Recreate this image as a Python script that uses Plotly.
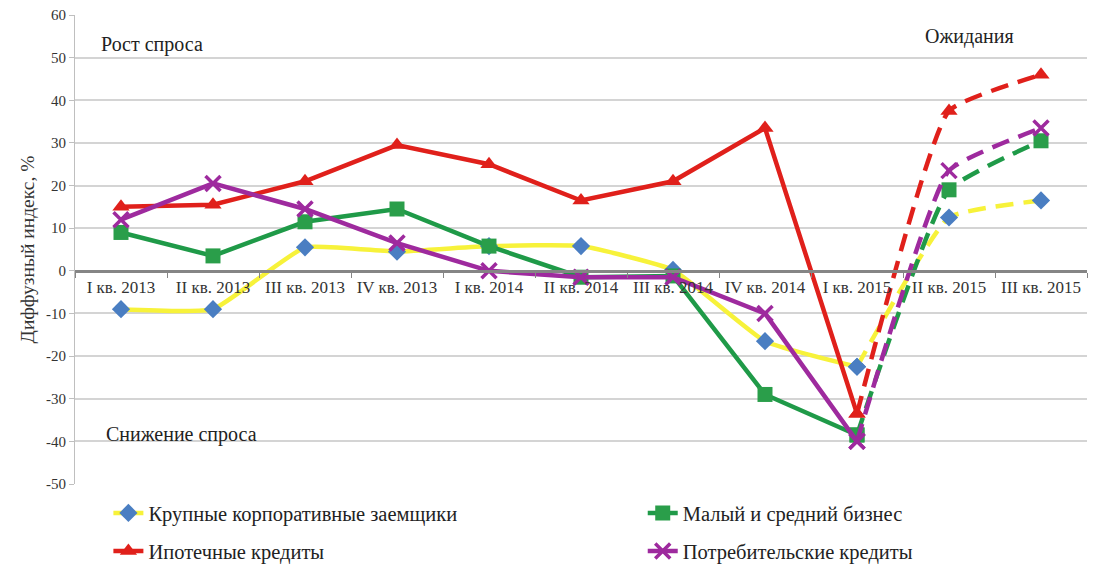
import plotly.graph_objects as go

categories = ["I кв. 2013", "II кв. 2013", "III кв. 2013", "IV кв. 2013",
              "I кв. 2014", "II кв. 2014", "III кв. 2014", "IV кв. 2014",
              "I кв. 2015", "II кв. 2015", "III кв. 2015"]

large_corp = [-9, -9, 5.5, 4.5, 5.8, 5.8, 0.2, -16.5, -22.5, 12.5, 16.5]
sme = [9, 3.5, 11.5, 14.5, 5.8, -1.5, -1.2, -29, -38.5, 19, 30.5]
mortgage = [15, 15.5, 21, 29.5, 25, 16.5, 21, 33.5, -33.5, 37.5, 46]
consumer = [12, 20.5, 14.5, 6.5, 0, -1.5, -1.5, -10, -40, 23.5, 33.5]

names = ["Крупные корпоративные заемщики", "Малый и средний бизнес",
         "Ипотечные кредиты", "Потребительские кредиты"]

y_ticks = [60, 50, 40, 30, 20, 10, 0, -10, -20, -30, -40, -50]

FACT_END = 8  # index of last actual quarter (I кв. 2015)

series = [
    dict(y=large_corp, line="#F7F23A", mcolor="#4A7EC2", symbol="diamond", size=14, spline=True, legend="legend"),
    dict(y=sme, line="#1F9A48", mcolor="#2A9E4A", symbol="square", size=15, spline=False, legend="legend2"),
    dict(y=mortgage, line="#E0201B", mcolor="#E0201B", symbol="triangle-up", size=15, spline=False, legend="legend3"),
    dict(y=consumer, line="#9E2A9E", mcolor="#9E2A9E", symbol="x-thin", size=15, spline=False, legend="legend4"),
]

fig = go.Figure()
serif = "Liberation Serif, Times New Roman, serif"

for name, s in zip(names, series):
    marker = dict(symbol=s["symbol"], size=s["size"], color=s["mcolor"],
                  line=dict(color=s["mcolor"], width=3.5 if s["symbol"] == "x-thin" else 0))
    fig.add_trace(go.Scatter(
        x=categories[:FACT_END + 1], y=s["y"][:FACT_END + 1], name=name,
        mode="lines+markers",
        line=dict(color=s["line"], width=4.5, shape="spline" if s["spline"] else "linear", smoothing=0.4),
        marker=marker, legend=s["legend"], showlegend=True))
    fig.add_trace(go.Scatter(
        x=categories[FACT_END:], y=s["y"][FACT_END:], name=name,
        mode="lines+markers",
        line=dict(color=s["line"], width=4.5, dash="18px,10px", shape="spline", smoothing=0.4),
        marker=marker, legend=s["legend"], showlegend=False))

leg_font = dict(family=serif, size=20.5, color="#222222")
def leg(x, y):
    return dict(orientation="h", x=x, y=y, xanchor="left", yanchor="middle",
                font=leg_font, itemwidth=30, bgcolor="rgba(0,0,0,0)")

fig.update_layout(
    width=1095, height=565,
    margin=dict(l=75, r=8, t=15, b=81, autoexpand=False),
    plot_bgcolor="white", paper_bgcolor="white",
    font=dict(family=serif, size=14, color="#333333"),
    xaxis=dict(
        type="category", range=[-0.5, 10.5],
        anchor="free", position=50 / 110,
        showline=True, linecolor="#858585", linewidth=2.5,
        ticks="outside", tickson="boundaries", ticklen=5, tickcolor="#858585",
        showgrid=False, tickfont=dict(family=serif, size=17, color="#333333"),
    ),
    yaxis=dict(
        range=[-50, 60], domain=[0, 1],
        tickvals=y_ticks, ticktext=[str(v) for v in y_ticks],
        showline=True, linecolor="#BFBFBF", linewidth=1,
        ticks="outside", ticklen=5, tickcolor="#BFBFBF",
        showgrid=True, gridcolor="#D4D4D4", gridwidth=2,
        zeroline=False,
        tickfont=dict(family=serif, size=15, color="#333333"),
        title=dict(text="Диффузный индекс, %", font=dict(family=serif, size=19.5, color="#333333"), standoff=6),
    ),
    legend=leg(0.033, -0.062),
    legend2=leg(0.561, -0.062),
    legend3=leg(0.033, -0.143),
    legend4=leg(0.561, -0.143),
    annotations=[
        dict(x=0.024, y=53, xref="paper", yref="y", text="Рост спроса", showarrow=False,
             xanchor="left", font=dict(family=serif, size=20, color="#222222")),
        dict(x=0.029, y=-38.5, xref="paper", yref="y", text="Снижение спроса", showarrow=False,
             xanchor="left", font=dict(family=serif, size=20, color="#222222")),
        dict(x=0.884, y=55, xref="paper", yref="y", text="Ожидания", showarrow=False,
             xanchor="center", font=dict(family=serif, size=20, color="#222222")),
    ],
)

fig.write_html("out.html")
